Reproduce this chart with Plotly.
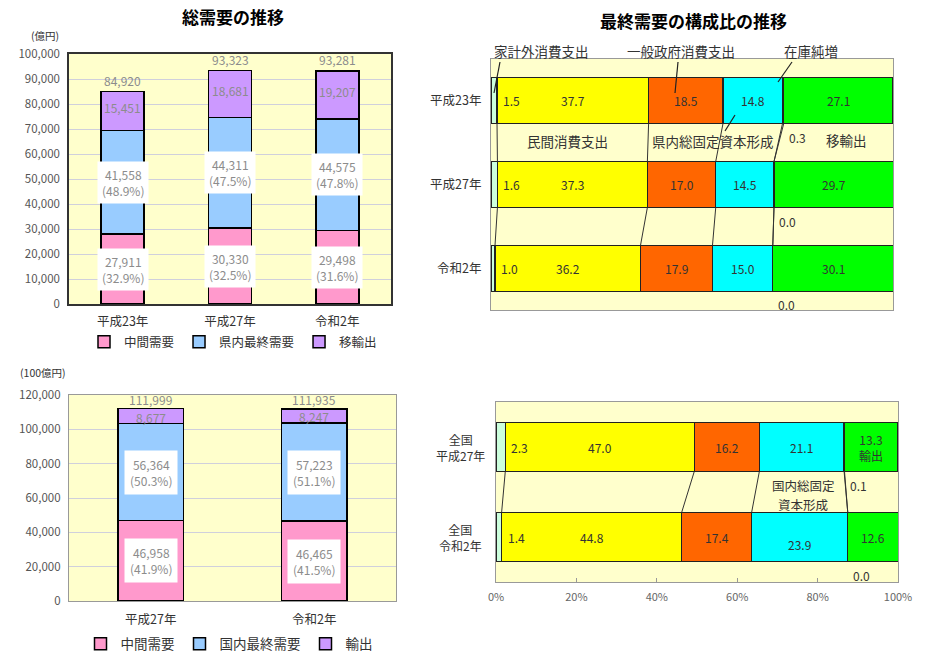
import numpy as np
import plotly.graph_objects as go

W, H = 932, 667
FONT = "Noto Sans CJK JP"

# ---- top left: 総需要の推移 (億円)
years1 = ["平成23年", "平成27年", "令和2年"]
inter1 = [27911, 30330, 29498]
final1 = [41558, 44311, 44575]
export1 = [15451, 18681, 19207]
total1 = [84920, 93323, 93281]
inter1_pct = [32.9, 32.5, 31.6]
final1_pct = [48.9, 47.5, 47.8]

# ---- top right: 最終需要の構成比の推移 (%)
years2 = ["平成23年", "平成27年", "令和2年"]
hh2 = [1.5, 1.6, 1.0]
priv2 = [37.7, 37.3, 36.2]
gov2 = [18.5, 17.0, 17.9]
gfcf2 = [14.8, 14.5, 15.0]
inv2 = [0.3, 0.0, 0.0]
exp2 = [27.1, 29.7, 30.1]

# ---- bottom left: 全国 (100億円)
years3 = ["平成27年", "令和2年"]
inter3 = [46958, 46465]
final3 = [56364, 57223]
export3 = [8677, 8247]
total3 = [111999, 111935]
inter3_pct = [41.9, 41.5]
final3_pct = [50.3, 51.1]

# ---- bottom right: 全国 構成比 (%)
years4 = ["全国<br>平成27年", "全国<br>令和2年"]
hh4 = [2.3, 1.4]
priv4 = [47.0, 44.8]
gov4 = [16.2, 17.4]
gfcf4 = [21.1, 23.9]
inv4 = [0.1, 0.0]
exp4 = [13.3, 12.6]
pct_ticks = [0, 20, 40, 60, 80, 100]
pct_labels = ["0%", "20%", "40%", "60%", "80%", "100%"]

PINK, BLUE, PURPLE = "#FF99CC", "#99CCFF", "#CC99FF"
SEG_COLORS = ["#CCFFDD", "#FFFF00", "#FF6600", "#00FFFF", "#222222", "#00FF00"]
BG = "#FFFFCC"
GRAY_TXT = "#8C8C8C"
DARK_TXT = "#333333"


def px_x(x):
    return x / W


def px_y(y):
    return 1 - y / H


def dom_x(a, b):
    return [px_x(a), px_x(b)]


def dom_y(top, bottom):
    return [px_y(bottom), px_y(top)]


def note(x, y, text, size=12, color=DARK_TXT, xref="paper", yref="paper", **kw):
    d = dict(x=x, y=y, xref=xref, yref=yref, text=text, showarrow=False,
             xanchor="center", yanchor="middle", font=dict(size=size, color=color))
    d.update(kw)
    return d


fig = go.Figure()
annotations = []
shapes = []

# -------- top left: stacked columns --------
for name, vals, color in [("中間需要", inter1, PINK), ("県内最終需要", final1, BLUE), ("移輸出", export1, PURPLE)]:
    fig.add_trace(go.Bar(
        x=years1, y=vals, name=name, width=0.4,
        marker=dict(color=color, line=dict(color="black", width=1.5)),
        xaxis="x", yaxis="y", legend="legend", hoverinfo="skip",
    ))

for i, cat in enumerate(years1):
    annotations.append(note(cat, inter1[i] / 2, f"{inter1[i]:,}<br>({inter1_pct[i]:.1f}%)",
                            color=GRAY_TXT, xref="x", yref="y", bgcolor="white", borderpad=4))
    annotations.append(note(cat, inter1[i] + final1[i] / 2, f"{final1[i]:,}<br>({final1_pct[i]:.1f}%)",
                            color=GRAY_TXT, xref="x", yref="y", bgcolor="white", borderpad=4))
    annotations.append(note(cat, inter1[i] + final1[i] + export1[i] / 2 + 1500, f"{export1[i]:,}",
                            color=GRAY_TXT, xref="x", yref="y"))
    annotations.append(note(cat, total1[i], f"{total1[i]:,}", color=GRAY_TXT, xref="x", yref="y",
                            yanchor="bottom", yshift=1))

# -------- bottom left: stacked columns --------
for name, vals, color in [("中間需要", inter3, PINK), ("国内最終需要", final3, BLUE), ("輸出", export3, PURPLE)]:
    fig.add_trace(go.Bar(
        x=years3, y=vals, name=name, width=0.4,
        marker=dict(color=color, line=dict(color="black", width=1.5)),
        xaxis="x3", yaxis="y3", legend="legend2", hoverinfo="skip",
    ))

for i, cat in enumerate(years3):
    annotations.append(note(cat, inter3[i] / 2, f"{inter3[i]:,}<br>({inter3_pct[i]:.1f}%)",
                            color=GRAY_TXT, xref="x3", yref="y3", bgcolor="white", borderpad=5))
    annotations.append(note(cat, inter3[i] + final3[i] / 2, f"{final3[i]:,}<br>({final3_pct[i]:.1f}%)",
                            color=GRAY_TXT, xref="x3", yref="y3", bgcolor="white", borderpad=5))
    annotations.append(note(cat, inter3[i] + final3[i] + export3[i] / 2, f"{export3[i]:,}",
                            color=GRAY_TXT, xref="x3", yref="y3", yshift=-1))
    annotations.append(note(cat, total3[i], f"{total3[i]:,}", color=GRAY_TXT, xref="x3", yref="y3",
                            yanchor="bottom", yshift=-1))


# -------- horizontal 100% bars --------
def add_share_panel(xa, ya, segs, half):
    n = len(segs[0])
    pos = list(range(n))
    for vals, color in zip(segs, SEG_COLORS):
        fig.add_trace(go.Bar(
            y=pos, x=vals, orientation="h", width=half * 2,
            marker=dict(color=color, line=dict(color="#222222", width=1.3)),
            xaxis=xa, yaxis=ya, showlegend=False, hoverinfo="skip",
        ))
    cums = np.cumsum(np.array(segs, dtype=float), axis=0)  # seg x bar
    # series lines joining the same boundary of neighbouring bars
    lx, ly = [], []
    for i in range(n - 1):
        for k in range(len(segs) - 1):
            lx += [cums[k, i], cums[k, i + 1], None]
            ly += [i + half, i + 1 - half, None]
    fig.add_trace(go.Scatter(
        x=lx, y=ly, mode="lines", line=dict(color="#333333", width=1),
        xaxis=xa, yaxis=ya, showlegend=False, hoverinfo="skip",
    ))
    return cums


def share_labels(xa, ya, segs, cums, half, exp_texts=None, gfcf_shift=None):
    n = len(segs[0])
    for i in range(n):
        # 家計外消費支出 value sits just inside the next segment
        annotations.append(note(cums[0, i], i, f"{segs[0][i]:.1f}", xref=xa, yref=ya,
                                xanchor="left", xshift=4))
        for k in (1, 2, 3, 5):
            txt = f"{segs[k][i]:.1f}"
            if k == 5 and exp_texts:
                txt += exp_texts[i]
            shift = gfcf_shift[i] if (k == 3 and gfcf_shift) else 0
            annotations.append(note(cums[k, i] - segs[k][i] / 2, i, txt, xref=xa, yref=ya,
                                    yshift=shift))
        # 在庫純増 value below the bar
        annotations.append(note(cums[4, i], i + half, f"{segs[4][i]:.1f}", xref=xa, yref=ya,
                                xanchor="left", yanchor="top", xshift=3, yshift=-3))


segs2 = [hh2, priv2, gov2, gfcf2, inv2, exp2]
cums2 = add_share_panel("x2", "y2", segs2, 0.275)
share_labels("x2", "y2", segs2, cums2, 0.275)

segs4 = [hh4, priv4, gov4, gfcf4, inv4, exp4]
cums4 = add_share_panel("x4", "y4", segs4, 0.275)
share_labels("x4", "y4", segs4, cums4, 0.275, exp_texts=["<br>輸出", ""], gfcf_shift=[0, -7])

# two-line row labels for bottom right
for i, lab in enumerate(years4):
    annotations.append(note(px_x(460), i, lab, yref="y4", align="center"))

# series names in the top right panel (and the wrapped one in the bottom right)
name_labels = [
    ("家計外消費支出", 541, 51),
    ("一般政府消費支出", 681, 51),
    ("在庫純増", 811, 51),
    ("民間消費支出", 567, 141),
    ("県内総固定資本形成", 713, 141),
    ("移輸出", 846, 140),
]
for txt, x, y in name_labels:
    annotations.append(note(px_x(x), px_y(y), txt, size=13.5))
annotations.append(note(px_x(803), px_y(485), "国内総固定", size=12.5))
annotations.append(note(px_x(803), px_y(504), "資本形成", size=12.5))

leaders = [((500, 62), (494, 93)), ((678, 62), (675, 93)), ((792, 62), (778, 82)), ((735, 115), (725, 131))]
for (x0, y0), (x1, y1) in leaders:
    shapes.append(dict(
        type="line", xref="paper", yref="paper",
        x0=px_x(x0), y0=px_y(y0), x1=px_x(x1), y1=px_y(y1),
        line=dict(color="#222222", width=1.2),
    ))

# titles and units
annotations += [
    note(px_x(233), px_y(17), "<b>総需要の推移</b>", size=17, color="black"),
    note(px_x(693), px_y(20), "<b>最終需要の構成比の推移</b>", size=17, color="black"),
    note(px_x(45), px_y(36), "(億円)", size=10.5),
    note(px_x(43), px_y(372), "(100億円)", size=10.5),
]

frame = dict(showline=True, mirror=True, linecolor="#333333", linewidth=1.5, zeroline=False)
soft_frame = dict(showline=True, mirror=True, linecolor="#999999", linewidth=1.2, zeroline=False)

fig.update_layout(
    width=W,
    height=H,
    margin=dict(l=0, r=0, t=0, b=0, autoexpand=False),
    paper_bgcolor="white",
    plot_bgcolor=BG,
    barmode="stack",
    font=dict(family=FONT, size=12, color=DARK_TXT),
    annotations=annotations,
    shapes=shapes,
    xaxis=dict(domain=dom_x(69, 391), anchor="y", type="category", ticks="", automargin=False,
               ticklabelstandoff=5, tickfont=dict(size=12.5, color=DARK_TXT), **frame),
    yaxis=dict(domain=dom_y(54, 304), anchor="x", range=[0, 100000], dtick=10000, automargin=False,
               tickformat=",", gridcolor="#D0D0DC", ticklabelstandoff=5,
               tickfont=dict(size=11.5, color="#555555"), **frame),
    xaxis2=dict(domain=dom_x(491, 893), anchor="y2", range=[0, 100], showticklabels=False,
                showgrid=False, ticks="", automargin=False, **soft_frame),
    yaxis2=dict(domain=dom_y(59, 310), anchor="x2", range=[2.5, -0.5], tickvals=[0, 1, 2],
                ticktext=years2, showgrid=False, ticks="", automargin=False, ticklabelstandoff=6,
                tickfont=dict(size=12.5, color=DARK_TXT), **soft_frame),
    xaxis3=dict(domain=dom_x(69, 396), anchor="y3", type="category", ticks="", automargin=False,
                ticklabelstandoff=7, tickfont=dict(size=12.5, color=DARK_TXT), **soft_frame),
    yaxis3=dict(domain=dom_y(395, 601), anchor="x3", range=[0, 120000], dtick=20000, automargin=False,
                tickformat=",", gridcolor="#D0D0DC", ticklabelstandoff=5,
                tickfont=dict(size=11.5, color="#555555"), **soft_frame),
    xaxis4=dict(domain=dom_x(496, 898), anchor="y4", range=[0, 100], tickvals=pct_ticks,
                ticktext=pct_labels, ticks="inside", ticklen=4, tickcolor="#999999", showgrid=False,
                automargin=False, ticklabelstandoff=5, tickfont=dict(size=11, color="#666666"),
                **soft_frame),
    yaxis4=dict(domain=dom_y(402, 582), anchor="x4", range=[1.5, -0.5], showticklabels=False,
                showgrid=False, ticks="", automargin=False, **soft_frame),
    legend=dict(orientation="h", x=px_x(233), xanchor="center", y=px_y(342), yanchor="middle",
                traceorder="normal", font=dict(size=12.5, color=DARK_TXT),
                bgcolor="rgba(0,0,0,0)", itemwidth=30),
    legend2=dict(orientation="h", x=px_x(229), xanchor="center", y=px_y(644), yanchor="middle",
                 traceorder="normal", font=dict(size=13.5, color=DARK_TXT),
                 bgcolor="rgba(0,0,0,0)", itemwidth=30),
)

fig.write_html("out.html", config={"displayModeBar": False},
               post_script="document.body.style.margin='0';")
